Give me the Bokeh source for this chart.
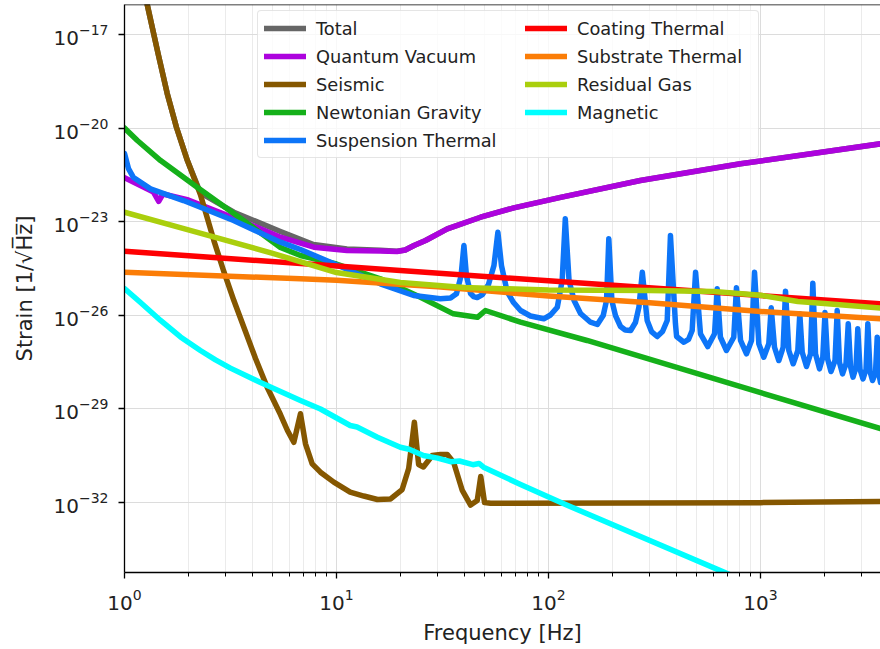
from bokeh.plotting import figure
from bokeh.models import Range1d, FixedTicker, Legend, LegendItem, Span
from bokeh.embed import file_html
from bokeh.resources import INLINE

# ---------------- data (frequency in Hz, strain in 1/sqrt(Hz)) ----------------
total_f = [1.0, 1.28, 1.356, 1.447, 1.59, 1.759, 1.98, 2.28, 3.28, 5.44, 7.79, 11.2, 16.1, 19.3, 21.1, 23.2, 26.3,
           33.3, 47.8, 68.6, 114, 271, 805, 3681]
total_h = [3e-13, 9.3e-17, 1.59e-17, 2.17e-18, 1.31e-19, 1.06e-20, 9.2e-22, 8.5e-23, 2.03e-23, 4.88e-24, 1.86e-24,
           1.34e-24, 1.22e-24, 1.13e-24, 1.24e-24, 1.73e-24, 2.5e-24, 5.94e-24, 1.4e-23, 2.8e-23, 6.1e-23, 2.11e-22,
           7.24e-22, 3.18e-21]

quantum_f = [1.0, 1.37, 1.45, 1.52, 2.0, 3.53, 5.44, 7.82, 11.2, 16.1, 19.3, 21.1, 23.2, 26.3, 33.3, 47.8, 68.6, 114,
             271, 805, 3681]
quantum_h = [2.6e-22, 9.0e-23, 4.5e-23, 7.8e-23, 5.0e-23, 1.1e-23, 3.2e-24, 1.53e-24, 1.2e-24, 1.15e-24, 1.11e-24,
             1.24e-24, 1.73e-24, 2.5e-24, 5.94e-24, 1.4e-23, 2.8e-23, 6.1e-23, 2.11e-22, 7.24e-22, 3.18e-21]

seismic_f = [1.0, 1.28, 1.356, 1.447, 1.59, 1.759, 1.98, 2.28, 2.64, 2.93, 3.28, 3.72, 4.15, 4.71, 5.44, 5.87, 6.29,
             6.76, 7.14, 7.68, 8.4, 9.71, 11.6, 13.45, 15.6, 18.0, 20.4, 21.9, 23.3, 24.4, 25.7, 28.3, 30.9, 33.3,
             35.7, 39.2, 42.9, 46.1, 47.9, 49.9, 53.3, 1000, 3681]
seismic_h = [3e-13, 9.3e-17, 1.59e-17, 2.17e-18, 1.31e-19, 1.06e-20, 9.2e-22, 7.5e-23, 2.5e-24, 2.73e-25, 2.97e-26,
             3.0e-27, 4.08e-28, 4.9e-29, 6.5e-30, 2.0e-30, 8.4e-31, 6.9e-30, 7.5e-31, 1.7e-31, 9.2e-32, 4.4e-32,
             2.1e-32, 1.58e-32, 1.22e-32, 1.27e-32, 2.55e-32, 1.21e-31, 3.7e-30, 1.62e-31, 1.35e-31, 3.15e-31,
             3.4e-31, 3.4e-31, 1.88e-31, 2.38e-32, 8.1e-33, 1.13e-32, 6.7e-32, 9.8e-33, 9.3e-33, 9.7e-33, 1.05e-32]

newtonian_f = [1.0, 1.15, 1.48, 2.21, 3.93, 5.44, 6.76, 10.0, 16.1, 24.9, 35.6, 46.2, 50.4, 73.8, 152, 3681]
newtonian_h = [1.02e-20, 4.06e-21, 9.2e-22, 1.26e-22, 7.6e-24, 1.49e-24, 8.3e-25, 4.4e-25, 1.48e-25, 3.8e-26,
               1.11e-26, 8.6e-27, 1.42e-26, 6.0e-27, 1.55e-27, 2.3e-30]

suspension_f = [1.0, 1.044, 1.103, 1.326, 1.898, 3.27, 5.44, 6.76, 10.44, 16.1, 23.1, 30.9, 34.5,
                36.8, 38.7, 39.9, 41.0, 42.9, 44.3, 46.1, 48.8, 52.1, 55.3, 57.7, 60.0, 63.8, 68.4, 73.8, 82.2,
                95.0, 102.2, 110, 116, 120, 125, 132, 141.6, 157.8, 170, 181.1, 187.8, 192.5, 199, 207, 218.6,
                230, 244, 257, 267, 277, 292, 306, 325.6, 345, 363, 376, 397, 402, 435, 457.5, 476, 494, 521, 564,
                607, 625, 647, 691, 748, 770, 805, 859, 907,
                937, 982, 1036, 1094, 1123, 1164, 1220, 1279, 1312, 1360, 1426, 1500, 1532, 1573, 1648, 1721,
                1765, 1817, 1898, 1967, 2015, 2070, 2150, 2246, 2300, 2358, 2437, 2531, 2593, 2658, 2731, 2821,
                2877, 2947, 3044, 3146, 3208, 3285, 3376, 3487, 3553, 3622, 3681]
suspension_h = [1.55e-21, 5.1e-22, 2.63e-22, 1.14e-22, 4.8e-23, 1.1e-23, 2.21e-24, 1.29e-24, 3.66e-25, 1.02e-25, 4.3e-26,
                3.37e-26, 3.57e-26,
                4.88e-26, 1.88e-25, 1.73e-24, 1.88e-25, 4.99e-26, 3.99e-26, 3.7e-26, 4.63e-26, 9.7e-26, 3.94e-25,
                4.62e-24, 3.94e-25, 5.78e-26, 2.56e-26, 1.42e-26, 9.46e-27,
                7.7e-27, 1.02e-26, 1.81e-26, 1.3e-25, 1.245e-23, 1.3e-25, 2.97e-26, 1.14e-26, 5.98e-27, 5.05e-27,
                9.8e-27, 2.97e-26, 2.84e-24, 2.97e-26, 9.8e-27, 4.36e-27,
                3.36e-27, 3.24e-27, 5.85e-27, 1.81e-26, 2.4e-25, 6.8e-27, 3.0e-27, 2.08e-27, 3.0e-27, 6.8e-27,
                3.62e-24, 5.3e-27, 2.08e-27, 1.36e-27, 1.67e-27, 3.24e-27, 2.4e-25, 2.54e-27, 9.9e-28,
                2.54e-27, 7.06e-26, 1.97e-27, 7.4e-28, 1.97e-27, 7.6e-26, 1.55e-27, 5.78e-28, 1.55e-27,
                2.4e-25, 1.21e-27, 4.5e-28, 1.21e-27, 1.73e-26, 9.4e-28, 3.52e-28, 9.4e-28, 5.91e-26, 7.4e-28, 2.77e-28,
                7.4e-28, 1.11e-26, 6.5e-28, 2.26e-28, 5.78e-28,
                1.07e-25, 5.78e-28, 1.91e-28, 4.5e-28, 1.22e-26, 4.1e-28, 1.57e-28, 3.52e-28, 1.42e-26, 3.04e-28,
                1.32e-28, 2.82e-28, 5.3e-27, 2.26e-28, 1.03e-28, 2.1e-28,
                3.67e-27, 1.82e-28, 9.1e-29, 1.82e-28, 5.3e-27, 1.57e-28, 8.05e-29, 1.46e-28, 1.97e-27, 1.26e-28, 6.95e-29]

coating_f = [1, 10, 100, 1000, 3681]
coating_h = [1.13e-24, 3.8e-25, 1.27e-25, 4.27e-26, 2.33e-26]

substrate_f = [1, 6.76, 10, 30, 100, 300, 1000, 3681]
substrate_h = [2.4e-25, 1.48e-25, 1.33e-25, 8.2e-26, 4.15e-26, 2.53e-26, 1.32e-26, 7.7e-27]

gas_f = [1, 2, 5, 10, 20, 40, 100, 300, 600, 1000, 1500, 2000, 3681]
gas_h = [2.03e-23, 5.5e-24, 9.7e-25, 2.35e-25, 1.12e-25, 7.76e-26, 6.45e-26, 6.2e-26, 5.78e-26, 4.4e-26, 2.76e-26,
         2.4e-26, 1.7e-26]

magnetic_f = [1, 1.19, 1.48, 1.837, 2.28, 2.687, 3.16, 4.38, 6.76, 8.4, 11.6, 12.5, 15.6, 20.0, 22.0, 25.7, 30.0,
              34.5, 38.0, 44.0, 47.0, 49.4, 73.8, 118, 671, 3681]
magnetic_h = [7.2e-26, 2.56e-26, 6.8e-27, 2.02e-27, 7.4e-28, 3.69e-28, 2.01e-28, 6.95e-29, 1.84e-29, 9.8e-30, 2.9e-30,
              2.6e-30, 1.22e-30, 5.8e-31, 5.0e-31, 3.15e-31, 2.6e-31, 2.0e-31, 2.1e-31, 1.6e-31, 1.75e-31, 1.33e-31,
              3.7e-32, 8.9e-33, 5.7e-35, 4e-37]

series = [
    ("Total", total_f, total_h, "#666666"),
    ("Quantum Vacuum", quantum_f, quantum_h, "#ad03de"),
    ("Seismic", seismic_f, seismic_h, "#855700"),
    ("Newtonian Gravity", newtonian_f, newtonian_h, "#15b01a"),
    ("Suspension Thermal", suspension_f, suspension_h, "#0d75f8"),
    ("Coating Thermal", coating_f, coating_h, "#fe0002"),
    ("Substrate Thermal", substrate_f, substrate_h, "#fb7d07"),
    ("Residual Gas", gas_f, gas_h, "#aacf0d"),
    ("Magnetic", magnetic_f, magnetic_h, "#00ffff"),
]

x_ticks = [1, 10, 100, 1000]
x_minor = [m * d for d in (1, 10, 100, 1000) for m in range(2, 10)]
y_ticks = [1e-32, 1e-29, 1e-26, 1e-23, 1e-20, 1e-17]

FONT = "DejaVu Sans"

p = figure(width=880, height=649, x_axis_type="log", y_axis_type="log",
           x_range=Range1d(1, 3681), y_range=Range1d(5.55e-35, 9.4e-17),
           output_backend="svg", toolbar_location=None,
           min_border_left=124, min_border_right=0, min_border_top=4, min_border_bottom=77)
p.outline_line_color = None
p.background_fill_color = "white"
p.border_fill_color = "white"

items = []
for name, f, h, col in series:
    r = p.line(f, h, line_color=col, line_width=5.5, line_join="round", line_cap="round")
    items.append(LegendItem(label=name, renderers=[r]))

# axes
p.xaxis.ticker = FixedTicker(ticks=x_ticks, minor_ticks=x_minor)
p.yaxis.ticker = FixedTicker(ticks=y_ticks, minor_ticks=[])
for ax in (p.xaxis[0], p.yaxis[0]):
    ax.axis_line_color = "black"
    ax.axis_line_width = 1.3
    ax.major_tick_line_color = "black"
    ax.minor_tick_line_color = "black"
    ax.major_tick_line_width = 1.3
    ax.minor_tick_line_width = 1
    ax.major_tick_out = 6
    ax.major_tick_in = 0
    ax.minor_tick_out = 4
    ax.minor_tick_in = 0
    ax.major_label_text_font = FONT
    ax.major_label_text_font_size = "20px"
    ax.major_label_text_color = "#222222"
    ax.axis_label_text_font = FONT
    ax.axis_label_text_font_size = "21px"
    ax.axis_label_text_font_style = "normal"
    ax.axis_label_text_color = "#222222"

p.xaxis.axis_label = "Frequency [Hz]"
p.xaxis.major_label_standoff = 10
p.xaxis.axis_label_standoff = 8
p.yaxis.axis_label = "Strain [1/\u221aH\u0305z\u0305]"
p.yaxis.major_label_standoff = 10
p.yaxis.axis_label_standoff = 14

p.xgrid.grid_line_color = "#dcdcdc"
p.xgrid.minor_grid_line_color = "#ebebeb"
p.xgrid.grid_line_width = 1
p.ygrid.grid_line_color = "#dcdcdc"
p.ygrid.grid_line_width = 1

# top spine
p.add_layout(Span(location=9.4e-17, dimension="width", line_color="black", line_width=1.3))

common = dict(glyph_width=42, glyph_height=22, label_height=22, spacing=6, label_standoff=10, padding=6,
              label_text_font=FONT, label_text_font_size="17.8px", label_text_color="#222222",
              orientation="vertical")
leg1 = Legend(items=items[:5], location=(133, 414), label_width=436,
              border_line_color="#cccccc", border_line_width=1, background_fill_color="white",
              background_fill_alpha=0.8, **common)
leg2 = Legend(items=items[5:], location=(401, 449), label_width=150,
              border_line_color=None, background_fill_alpha=0.0, **common)
try:
    leg1.border_radius = 4
except Exception:
    pass
p.add_layout(leg1)
p.add_layout(leg2)

open("out.html", "w").write(file_html(p, INLINE))
